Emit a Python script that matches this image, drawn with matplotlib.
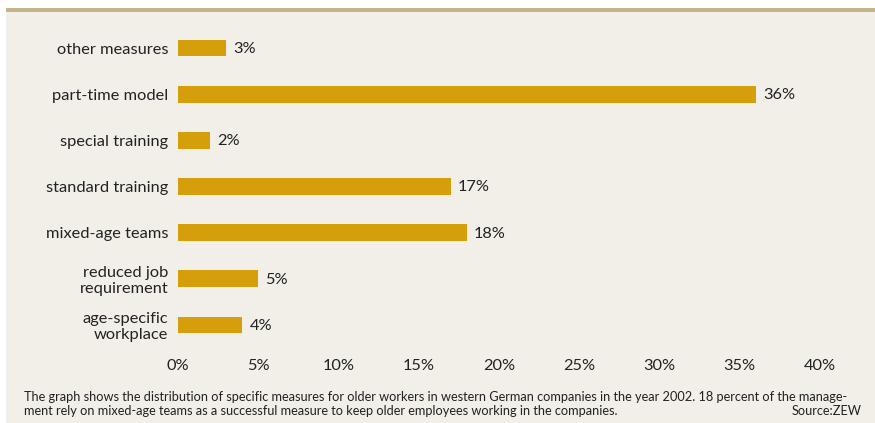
import matplotlib.pyplot as plt
from matplotlib.patches import Rectangle

# data (top to bottom as in the chart)
categories = ["other measures", "part-time model", "special training",
              "standard training", "mixed-age teams",
              "reduced job\nrequirement", "age-specific\nworkplace"]
values = [3, 36, 2, 17, 18, 5, 4]
xticks = [0, 5, 10, 15, 20, 25, 30, 35, 40]

caption1 = ("The graph shows the distribution of specific measures for older workers in western German "
            "companies in the year 2002. 18 percent of the manage-")
caption2 = "ment rely on mixed-age teams as a successful measure to keep older employees working in the companies."
source = "Source:ZEW"

bg = "#f2efe8"
bar_color = "#d49f0a"
line_color = "#c4b48a"
text_color = "#222222"

W, H = 875, 423
fig = plt.figure(figsize=(W / 100, H / 100), dpi=100, facecolor="white")

# panel background and top rule
fig.patches.append(Rectangle((6 / W, 0), 1, 1 - 12 / H, transform=fig.transFigure,
                             facecolor=bg, edgecolor="none", zorder=-5))
fig.patches.append(Rectangle((6 / W, 1 - 12 / H), 1, 4 / H, transform=fig.transFigure,
                             facecolor=line_color, edgecolor="none", zorder=-5))

ax = fig.add_axes([178 / W, 1 - 348 / H, 642 / W, 323 / H])
ax.set_facecolor("none")
ypos = list(range(len(categories)))
ax.barh(ypos, values, height=0.36, color=bar_color)
ax.set_ylim(len(categories) - 0.5, -0.5)
ax.set_xlim(0, 40)

ax.set_yticks(ypos)
ax.set_yticklabels(categories, fontsize=11.8, color=text_color, family="Lato")
for lbl in ax.get_yticklabels():
    lbl.set_multialignment("right")
    lbl.set_linespacing(1.15)
ax.set_xticks(xticks)
ax.set_xticklabels([f"{t}%" for t in xticks], fontsize=11.8, color=text_color, family="Lato")
ax.tick_params(length=0, axis="y", pad=7)
ax.tick_params(length=0, axis="x", pad=8)
for s in ax.spines.values():
    s.set_visible(False)

for y, v in zip(ypos, values):
    ax.text(v + 0.45, y + 0.02, f"{v}%", va="center", ha="left", fontsize=11.8,
            color=text_color, family="Lato")

cap_kw = dict(fontsize=9.2, color=text_color, family="Lato", va="center")
fig.text(24 / W, 1 - 397 / H, caption1, ha="left", **cap_kw)
fig.text(24 / W, 1 - 411 / H, caption2, ha="left", **cap_kw)
fig.text(862 / W, 1 - 411 / H, source, ha="right", **cap_kw)

fig.savefig("out.png", dpi=100, facecolor="white")
